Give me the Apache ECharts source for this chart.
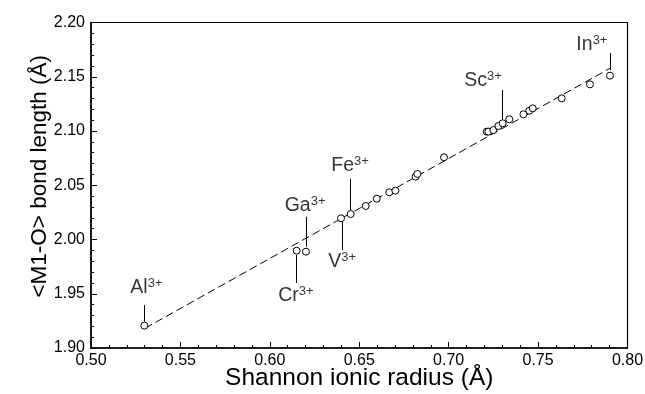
<!DOCTYPE html>
<html>
<head>
<meta charset="utf-8">
<script src="https://cdn.jsdelivr.net/npm/echarts@6/dist/echarts.min.js"></script>
<style>
html, body { margin: 0; padding: 0; background: #fff; }
#chart { width: 645px; height: 394px; }
</style>
</head>
<body>
<div id="chart"></div>
<script>
// Shannon radius vs <M1-O> bond length
var radius = [0.5298, 0.6150, 0.6202, 0.6398, 0.6452, 0.6536, 0.6598, 0.6668, 0.6702,
    0.6815, 0.6825, 0.6974, 0.7213, 0.7222, 0.7250, 0.7278, 0.7302, 0.7339, 0.7418,
    0.7451, 0.7470, 0.7632, 0.7790, 0.7902];
var bond = [1.9206, 1.9897, 1.9888, 2.0195, 2.0235, 2.0309, 2.0376, 2.0435, 2.0450,
    2.0579, 2.0604, 2.0758, 2.0994, 2.0994, 2.1009, 2.1046, 2.1071, 2.1108, 2.1154,
    2.1187, 2.1209, 2.1301, 2.1430, 2.1510];

// dashed fit line ends
var fitX = [0.5302, 0.7902];
var fitY = [1.9182, 2.1578];

// ion labels
var ions = ['Al', 'Cr', 'Ga', 'V', 'Fe', 'Sc', 'In'];
var labelX = [0.5310, 0.6146, 0.6197, 0.6404, 0.6449, 0.7192, 0.7801];
var labelY = [1.9560, 1.9488, 2.0318, 1.9802, 2.0687, 2.1470, 2.1802];
// leader lines: x, y from, y to
var leadX = [0.5298, 0.6150, 0.6202, 0.6407, 0.6452, 0.7302, 0.7902];
var leadY1 = [1.9396, 1.9857, 2.0210, 2.0161, 2.0558, 2.1378, 2.1719];
var leadY2 = [1.9242, 1.9599, 1.9934, 1.9903, 2.0272, 2.1101, 2.1562];

var xTicks = ['0.50', '0.55', '0.60', '0.65', '0.70', '0.75', '0.80'];
var yTicks = ['1.90', '1.95', '2.00', '2.05', '2.10', '2.15', '2.20'];

var font = 'Liberation Sans';
var myChart = echarts.init(document.getElementById('chart'));

function buildPoints() {
    var result = [];
    for (var i = 0; i < radius.length; i++) {
        result.push([radius[i], bond[i]]);
    }
    return result;
}

function buildLabels() {
    var result = [];
    for (var i = 0; i < ions.length; i++) {
        result.push({
            value: [labelX[i], labelY[i]],
            label: { formatter: '{b|' + ions[i] + '}{s|3+}' }
        });
    }
    return result;
}

function buildLeaders() {
    var result = [];
    for (var i = 0; i < leadX.length; i++) {
        result.push([{ coord: [leadX[i], leadY1[i]] }, { coord: [leadX[i], leadY2[i]] }]);
    }
    return result;
}

var option = {
    animation: false,
    backgroundColor: '#fff',
    grid: {
        left: 91, right: 17.5, top: 22.5, bottom: 46,
        outerBoundsMode: 'none',
        containLabel: false,
        show: true, borderColor: '#000', borderWidth: 1.2
    },
    xAxis: {
        type: 'value',
        min: 0.5, max: 0.8, interval: 0.05,
        name: 'Shannon ionic radius (Å)',
        nameLocation: 'middle',
        nameGap: 18,
        nameMoveOverlap: false,
        nameTextStyle: { fontFamily: font, fontSize: 24.5, color: '#000' },
        axisLine: { lineStyle: { color: '#000', width: 1.5 } },
        axisTick: { inside: true, length: 6, lineStyle: { color: '#000' } },
        minorTick: { show: true, splitNumber: 5, length: 3, lineStyle: { color: '#000' } },
        splitLine: { show: false },
        axisLabel: {
            margin: 5, fontFamily: font, fontSize: 16, color: '#000',
            formatter: function (v) { return xTicks[Math.round((v - 0.5) / 0.05)]; }
        }
    },
    yAxis: {
        type: 'value',
        min: 1.9, max: 2.2, interval: 0.05,
        name: '<M1-O> bond length (Å)',
        nameLocation: 'middle',
        nameGap: 40,
        nameMoveOverlap: false,
        nameTextStyle: { fontFamily: font, fontSize: 22.5, color: '#000', padding: [0, 0, 0, 18] },
        axisLine: { show: true, lineStyle: { color: '#000', width: 1.5 } },
        axisTick: { show: true, inside: true, length: 6, lineStyle: { color: '#000' } },
        minorTick: { show: true, splitNumber: 5, length: 3, lineStyle: { color: '#000' } },
        splitLine: { show: false },
        axisLabel: {
            margin: 6, fontFamily: font, fontSize: 16, color: '#000',
            formatter: function (v) { return yTicks[Math.round((v - 1.9) / 0.05)]; }
        }
    },
    series: [
        {
            type: 'line',
            data: [[fitX[0], fitY[0]], [fitX[1], fitY[1]]],
            showSymbol: false,
            silent: true,
            lineStyle: { color: '#000', width: 1, type: [8, 4] },
            z: 1
        },
        {
            type: 'scatter',
            data: buildPoints(),
            symbol: 'circle',
            symbolSize: 7,
            itemStyle: { color: '#fff', borderColor: '#000', borderWidth: 1, opacity: 1 },
            z: 3
        },
        {
            type: 'scatter',
            data: buildLabels(),
            symbolSize: 0,
            silent: true,
            label: {
                show: true,
                position: 'inside',
                color: '#000',
                rich: {
                    b: { fontFamily: font, fontSize: 19.5, lineHeight: 21, color: '#000', verticalAlign: 'bottom' },
                    s: { fontFamily: font, fontSize: 13, lineHeight: 21, color: '#000', verticalAlign: 'top' }
                }
            },
            markLine: {
                silent: true,
                symbol: 'none',
                label: { show: false },
                lineStyle: { color: '#000', width: 1, type: 'solid' },
                data: buildLeaders()
            },
            z: 4
        }
    ]
};

myChart.setOption(option);
</script>
</body>
</html>
